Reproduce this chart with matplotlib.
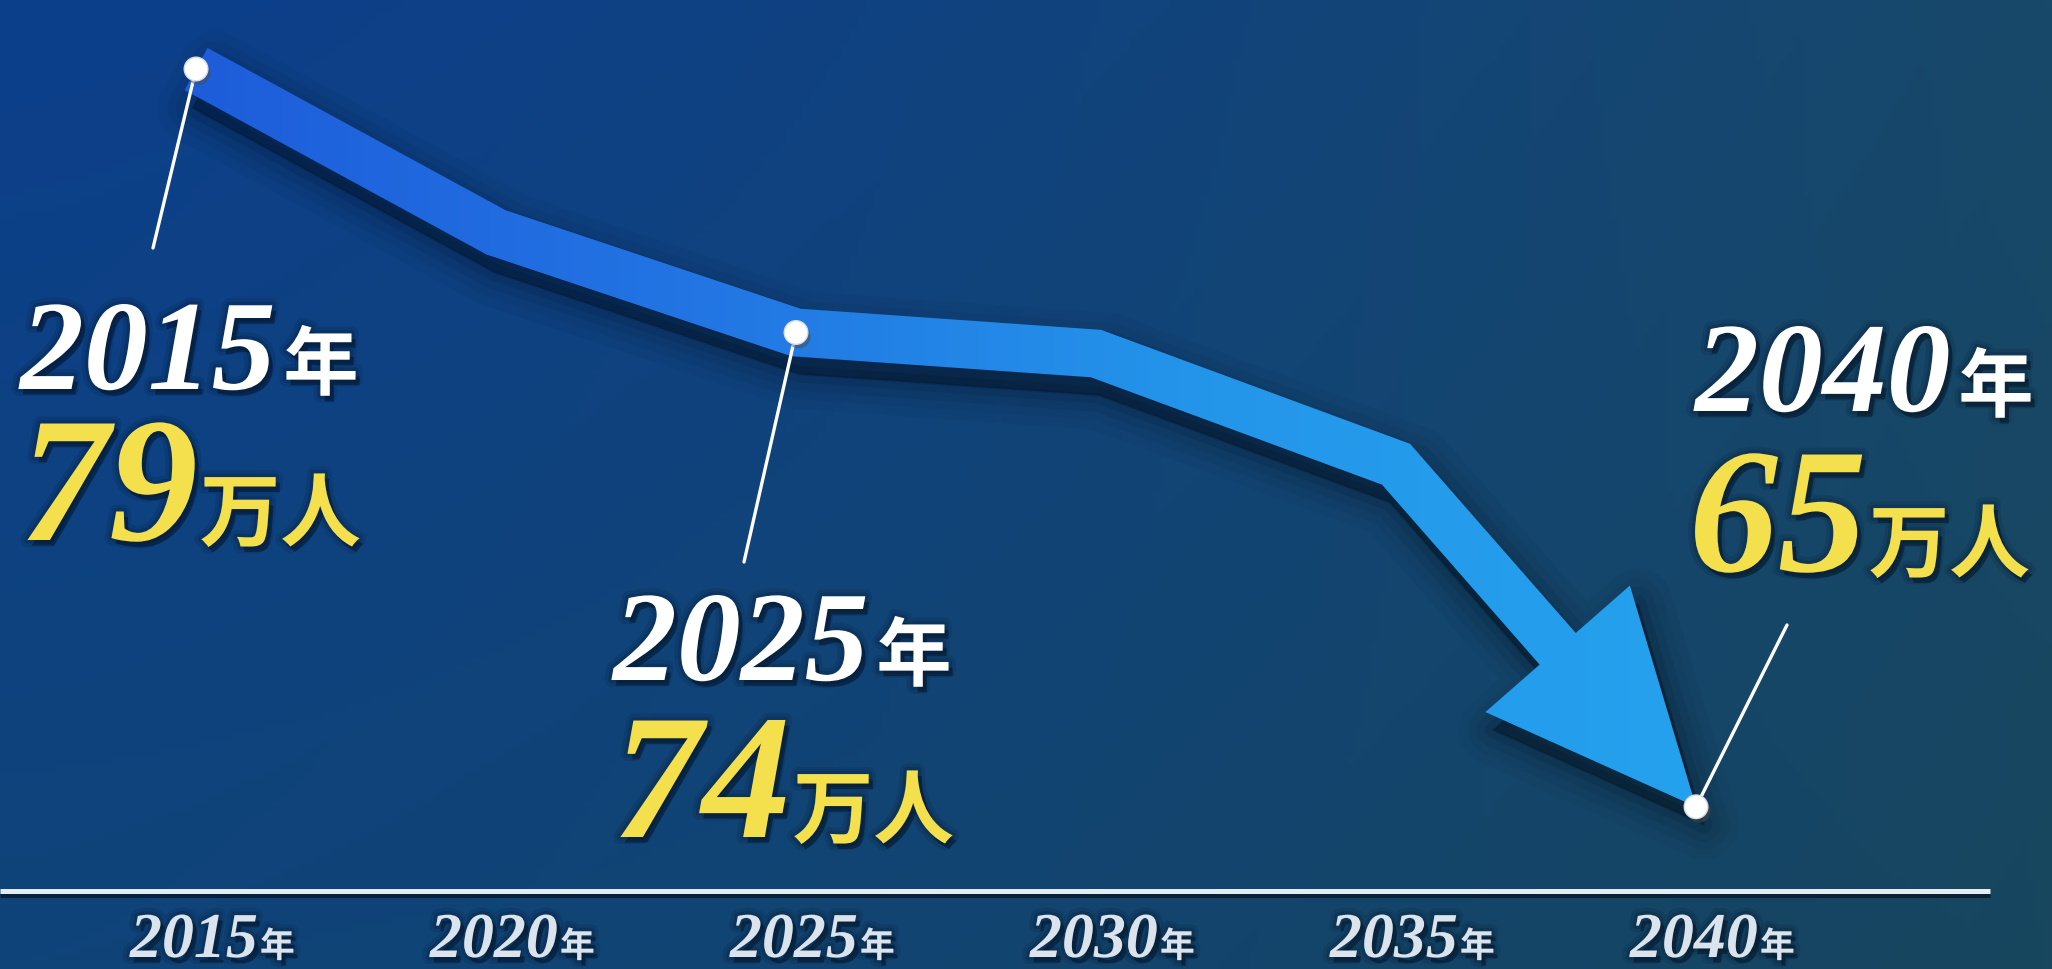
import numpy as np
import matplotlib
matplotlib.use("Agg")
import matplotlib.pyplot as plt
import matplotlib.patheffects as pe
from matplotlib.patches import Polygon
from matplotlib.colors import LinearSegmentedColormap, to_rgb

years = [2015, 2020, 2025, 2030, 2035, 2040]
population = [79, 75.9, 74, 73.6, 71.5, 65]
tick_labels = ["2015", "2020", "2025", "2030", "2035", "2040"]

# highlighted points
callout_years = [2015, 2025, 2040]
callout_values = [79, 74, 65]
callout_numbers = ["79", "74", "65"]

W, H = 2052, 970
fig = plt.figure(figsize=(W / 100, H / 100), dpi=100)
ax = fig.add_axes([0, 0, 1, 1])
xlim = (2011.733, 2045.933)
ylim = (61.922, 80.328)
ax.set_xlim(*xlim)
ax.set_ylim(*ylim)
ax.axis("off")

# background gradient (blue on the left, dark teal on the right)
c_tl, c_tr = np.array(to_rgb("#0c3f8b")), np.array(to_rgb("#18496a"))
c_bl, c_br = np.array(to_rgb("#0f4479")), np.array(to_rgb("#17465e"))
gx = (np.linspace(0, 1, 256) ** 1.4)[None, :, None]
gy = np.linspace(0, 1, 128)[:, None, None]
bg = (1 - gy) * ((1 - gx) * c_tl + gx * c_tr) + gy * ((1 - gx) * c_bl + gx * c_br)
ax.imshow(bg, extent=[*xlim, *ylim], origin="upper", aspect="auto", zorder=0)
ax.set_xlim(*xlim)
ax.set_ylim(*ylim)


def offset_line(p, half):
    d = np.diff(p, axis=0)
    d = d / np.hypot(d[:, 0], d[:, 1])[:, None]
    n = np.column_stack([-d[:, 1], d[:, 0]])
    left, right = [], []
    for i in range(len(p)):
        if i == 0:
            m = n[0]
        elif i == len(p) - 1:
            m = n[-1]
        else:
            m = n[i - 1] + n[i]
            m = m / np.hypot(*m)
            m = m / np.dot(m, n[i])
        left.append(p[i] + m * half)
        right.append(p[i] - m * half)
    return np.array(left), np.array(right)


# ribbon arrow, built in pixel space from the data points
pts = ax.transData.transform(np.column_stack([years, population]))
tip = pts[-1]
u = tip - pts[-2]
u = u / np.hypot(*u)
nrm = np.array([-u[1], u[0]])
head_len, head_w, half = 210, 192, 24
base = tip - u * head_len
shaft = np.vstack([pts[:-1], base])
left, right = offset_line(shaft, half)
outline = np.vstack([left, base + nrm * head_w / 2, tip, base - nrm * head_w / 2, right[::-1]])

inv = ax.transData.inverted()
shadow_xy = inv.transform(outline + np.array([8, -18]))
for lw, a in [(50, 0.03), (36, 0.04), (24, 0.06), (12, 0.08), (2, 0.1)]:
    ax.add_patch(Polygon(shadow_xy, closed=True, fc=(0, 0, 0, a), ec=(0, 0, 0, a),
                         lw=lw, joinstyle="round", zorder=2))

rib = Polygon(inv.transform(outline), closed=True, fc="none", ec="none", zorder=3)
ax.add_patch(rib)
cmap = LinearSegmentedColormap.from_list("rib", ["#1d5ad9", "#2274e3", "#2496ea", "#24a3ee"])
im = ax.imshow(np.linspace(0, 1, 512)[None, :], cmap=cmap, aspect="auto",
               extent=[2014, 2041, ylim[0], ylim[1]], zorder=3)
im.set_clip_path(rib)
ax.set_xlim(*xlim)
ax.set_ylim(*ylim)

txt_shadow = [pe.Stroke(linewidth=10, foreground="#031226", alpha=0.12),
              pe.Stroke(linewidth=5, foreground="#031226", alpha=0.18),
              pe.SimplePatchShadow(offset=(3, -4), shadow_rgbFace="#020d1c", alpha=0.45),
              pe.Normal()]

# leader lines and dots
leader_ends = [(153, 249), (744, 563), (1787, 626)]
for yr, v, (px, py) in zip(callout_years, callout_values, leader_ends):
    ax.annotate("", xy=(yr, v), xytext=(px, H - py), textcoords="figure pixels",
                arrowprops=dict(arrowstyle="-", color="white", lw=2.4, shrinkA=0, shrinkB=0),
                zorder=5)
ax.plot(callout_years, callout_values, "o", ms=17, mfc="white", mec="#d3dde9", mew=1,
        zorder=6, path_effects=[pe.SimplePatchShadow(offset=(2, -3), alpha=0.5), pe.Normal()])

renderer = fig.canvas.get_renderer()


def two_part(x, y, num, unit, color, num_size, unit_size, gap=4):
    t = fig.text(x / W, 1 - y / H, num, fontsize=num_size, color=color,
                 family="Liberation Serif", weight="bold", style="italic",
                 ha="left", va="baseline", path_effects=txt_shadow, zorder=7)
    bb = t.get_window_extent(renderer)
    fig.text((bb.x1 + gap) / W, 1 - y / H, unit, fontsize=unit_size, color=color,
             family="Noto Sans CJK JP", weight="bold", ha="left", va="baseline",
             path_effects=txt_shadow, zorder=7)


year_pos = [(20, 390), (613, 681), (1695, 412)]
value_pos = [(20, 541), (613, 838), (1689, 572)]
for yr, num, (yx, yy), (vx, vy) in zip(callout_years, callout_numbers, year_pos, value_pos):
    two_part(yx, yy, str(yr), "年", "white", 92, 54, gap=8)
    two_part(vx, vy, num, "万人", "#f3e04c", 128, 58, gap=2)

# baseline
ax.plot([0, 1990 / W], [1 - 892 / H] * 2, transform=ax.transAxes, color="#e2ecf3", lw=3.6,
        solid_capstyle="butt", zorder=4,
        path_effects=[pe.SimpleLineShadow(offset=(0, -3), alpha=0.5), pe.Normal()])

# year tick labels
for yr, lab in zip(years, tick_labels):
    ax.annotate(lab, xy=(yr, 0), xycoords=("data", "axes fraction"), xytext=(62, 12),
                textcoords="offset pixels", ha="right", va="baseline", fontsize=46,
                color="#dbe3ec", family="Liberation Serif", weight="bold", style="italic",
                path_effects=txt_shadow, zorder=7)
    ax.annotate("年", xy=(yr, 0), xycoords=("data", "axes fraction"), xytext=(64, 12),
                textcoords="offset pixels", ha="left", va="baseline", fontsize=25,
                color="#dbe3ec", family="Noto Sans CJK JP", weight="bold",
                path_effects=txt_shadow, zorder=7)

fig.savefig("out.png", dpi=100)
